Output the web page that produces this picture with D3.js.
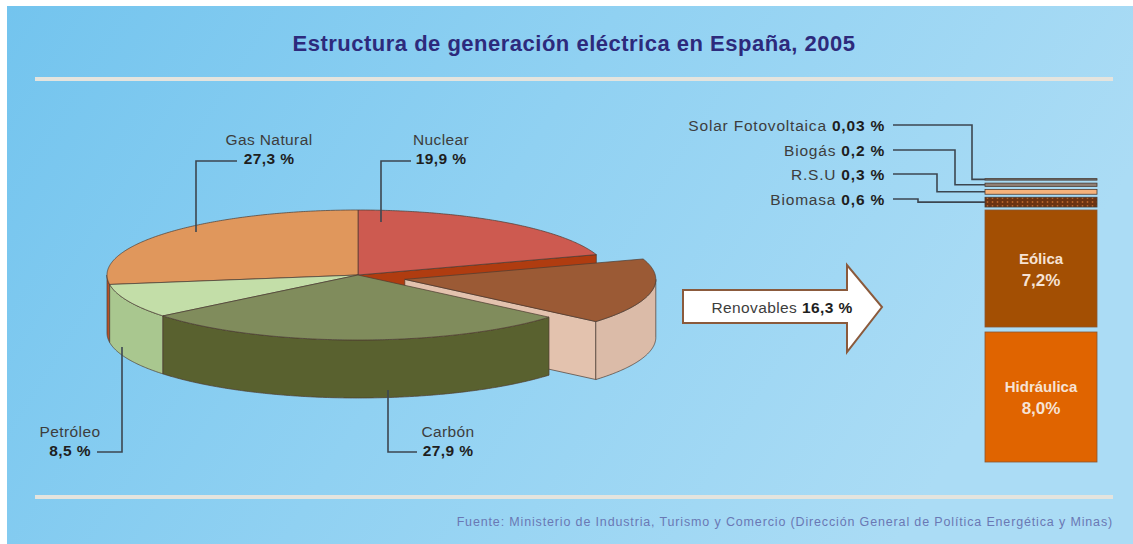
<!DOCTYPE html>
<html>
<head>
<meta charset="utf-8">
<script src="https://cdn.jsdelivr.net/npm/d3@7"></script>
<style>
  body { margin: 0; background: #fff; }
  svg { display: block; }
  text { font-family: "Liberation Sans", Arial, sans-serif; }
</style>
</head>
<body>
<div id="chart"></div>
<script>
// pie slices, clockwise from 12 o'clock
const pieLabels = ["Nuclear", "Renovables", "Carbón", "Petróleo", "Gas Natural"];
const pieValues = [19.9, 16.3, 27.9, 8.5, 27.3];
const pieTops = ["#cd5a50", "#9b5a35", "#808c5c", "#c3dea8", "#e0975c"];
const pieSides = ["#b03c10", "#dbbba8", "#59612f", "#a9c78f", "#b4502a"];
const explodedSlice = "Renovables";

// renewables stack, bottom to top
const renewLabels = ["Hidráulica", "Eólica", "Biomasa", "R.S.U", "Biogás", "Solar Fotovoltaica"];
const renewValues = [8.0, 7.2, 0.6, 0.3, 0.2, 0.03];
const renewColors = ["#e06400", "#a34f03", "#6b3312", "#f5b27b", "#8f7f75", "#6e6e6e"];
const renewTotal = 16.3;

const title = "Estructura de generación eléctrica en España, 2005";
const source = "Fuente: Ministerio de Industria, Turismo y Comercio (Dirección General de Política Energética y Minas)";

const W = 1133, H = 544;
const fmt = v => (v < 0.1 ? v.toFixed(2) : v.toFixed(1)).replace(".", ",");

const svg = d3.select("#chart").append("svg").attr("width", W).attr("height", H);
const defs = svg.append("defs");

let bg = defs.append("linearGradient").attr("id", "bg")
    .attr("x1", 0).attr("y1", 0).attr("x2", 1).attr("y2", 0.3);
bg.append("stop").attr("offset", 0).attr("stop-color", "#73c4ee");
bg.append("stop").attr("offset", 0.5).attr("stop-color", "#90d1f2");
bg.append("stop").attr("offset", 1).attr("stop-color", "#abdcf5");

let dots = defs.append("pattern").attr("id", "dots")
    .attr("width", 5).attr("height", 4).attr("patternUnits", "userSpaceOnUse");
dots.append("rect").attr("width", 5).attr("height", 4).attr("fill", "#6b3312");
dots.append("circle").attr("cx", 2.5).attr("cy", 2).attr("r", 0.9).attr("fill", "#b8652c");

svg.append("rect").attr("x", 7).attr("y", 6).attr("width", W - 7).attr("height", H - 6)
    .attr("fill", "url(#bg)");

// title and rules
svg.append("text")
    .attr("x", 574).attr("y", 51)
    .attr("text-anchor", "middle")
    .attr("font-size", "22px").attr("font-weight", "bold").attr("letter-spacing", "0.5px")
    .attr("fill", "#2d2a7c")
    .text(title);

[79, 497].forEach(y => {
    svg.append("line").attr("x1", 35).attr("x2", 1113).attr("y1", y).attr("y2", y)
        .attr("stroke", "#e4e4de").attr("stroke-width", 4);
});

svg.append("text")
    .attr("x", 1113).attr("y", 526)
    .attr("text-anchor", "end")
    .attr("font-size", "12.5px").attr("letter-spacing", "0.85px")
    .attr("fill", "#6a78b4")
    .text(source);

// ---- 3D pie ----
const cx = 358, cy = 275, rx = 251, ry = 65, depth = 58, explode = 0.19;
const line = d3.line();
const pt = (a, r, o, dz) => [cx + o[0] + rx * r * Math.sin(a), cy + o[1] - ry * r * Math.cos(a) + dz];
const arcPts = (a0, a1, o, dz) => {
    const n = Math.max(2, Math.ceil((a1 - a0) / 0.01));
    return d3.range(n + 1).map(i => pt(a0 + (a1 - a0) * i / n, 1, o, dz));
};
const topPath = (d, o) => line([pt(0, 0, o, 0), ...arcPts(d.startAngle, d.endAngle, o, 0)]) + "Z";
const outerWall = (d, o) => {
    const a0 = Math.max(d.startAngle, Math.PI / 2), a1 = Math.min(d.endAngle, 3 * Math.PI / 2);
    if (a1 <= a0) return null;
    return line([...arcPts(a0, a1, o, 0), ...arcPts(a0, a1, o, depth).reverse()]) + "Z";
};
const radialWall = (a, o) => line([pt(a, 0, o, 0), pt(a, 1, o, 0), pt(a, 1, o, depth), pt(a, 0, o, depth)]) + "Z";

const slices = d3.pie().sort(null).startAngle(0).endAngle(2 * Math.PI)(pieValues)
    .map((d, i) => {
        const mid = (d.startAngle + d.endAngle) / 2;
        const ex = pieLabels[i] === explodedSlice;
        return Object.assign(d, {
            label: pieLabels[i], top: pieTops[i], side: pieSides[i], mid, ex,
            off: ex ? [explode * rx * Math.sin(mid), -explode * ry * Math.cos(mid) + 2] : [0, 0]
        });
    });
const exIdx = slices.findIndex(d => d.ex);

const pieG = svg.append("g")
    .attr("stroke", "#4d3b30").attr("stroke-width", 0.7).attr("stroke-linejoin", "round");

// back slices first
slices.slice().sort((a, b) => -Math.cos(a.mid) + Math.cos(b.mid)).forEach(d => {
    const i = d.index;
    const nextEx = (i + 1) % slices.length === exIdx, prevEx = (i - 1 + slices.length) % slices.length === exIdx;
    const radialFill = d.ex ? d3.color(d.side).brighter(0.1) : d.side;
    if ((d.ex || nextEx) && Math.sin(d.endAngle) > 0)
        pieG.append("path").attr("d", radialWall(d.endAngle, d.off)).attr("fill", radialFill);
    if ((d.ex || prevEx) && Math.sin(d.startAngle) < 0)
        pieG.append("path").attr("d", radialWall(d.startAngle, d.off)).attr("fill", radialFill);
    const w = outerWall(d, d.off);
    if (w) pieG.append("path").attr("d", w).attr("fill", d.side);
    pieG.append("path").attr("d", topPath(d, d.off)).attr("fill", d.top);
});

// pie labels
const pieLabelPos = {
    "Gas Natural": { x: 269, y: 145, path: [[237, 161], [196, 161], [196, 232]] },
    "Nuclear":     { x: 441, y: 145, path: [[411, 161], [381, 161], [381, 222]] },
    "Petróleo":    { x: 70,  y: 437, path: [[97, 452], [122, 452], [122, 347]] },
    "Carbón":      { x: 448, y: 437, path: [[417, 452], [388, 452], [388, 390]] }
};
slices.filter(d => pieLabelPos[d.label]).forEach(d => {
    const p = pieLabelPos[d.label];
    svg.append("path").attr("d", line(p.path)).attr("fill", "none")
        .attr("stroke", "#3c4650").attr("stroke-width", 1.6);
    const t = svg.append("text").attr("text-anchor", "middle").attr("font-size", "15.5px")
        .attr("letter-spacing", "0.4px");
    t.append("tspan").attr("x", p.x).attr("y", p.y).attr("fill", "#3d3d3d").text(d.label);
    t.append("tspan").attr("x", p.x).attr("y", p.y + 19).attr("fill", "#1e1e1e")
        .attr("font-weight", "bold").text(fmt(d.value) + " %");
});

// arrow
svg.append("path")
    .attr("d", line([[683, 290], [847, 290], [847, 265], [882, 307], [847, 352], [847, 323], [683, 323]]) + "Z")
    .attr("fill", "#ffffff").attr("stroke", "#8b5a3c").attr("stroke-width", 2);
const at = svg.append("text").attr("x", 782).attr("y", 313).attr("text-anchor", "middle")
    .attr("font-size", "15.5px").attr("letter-spacing", "0.4px");
at.append("tspan").attr("fill", "#3d3d3d").text("Renovables ");
at.append("tspan").attr("fill", "#1e1e1e").attr("font-weight", "bold").text(fmt(renewTotal) + " %");

// ---- renewables stack ----
const barX = 985, barW = 112, barBottom = 462;
const hScale = d3.scaleLinear().domain([0, renewValues[0]]).range([0, 130]);
const gaps = [0, 5, 3, 3, 3, 3];
let yCur = barBottom;
const bands = renewValues.map((v, i) => {
    yCur -= gaps[i];
    const h = Math.max(hScale(v), 1.5);
    yCur -= h;
    return { label: renewLabels[i], value: v, color: renewColors[i], y: yCur, h };
});

svg.selectAll("rect.band").data(bands).join("rect")
    .attr("class", "band")
    .attr("x", barX).attr("width", barW)
    .attr("y", d => d.y).attr("height", d => d.h)
    .attr("fill", d => d.label === "Biomasa" ? "url(#dots)" : d.color)
    .attr("stroke", (d, i) => i < 2 ? "#8a5530" : "#4a3a30").attr("stroke-width", 0.8);

bands.slice(0, 2).forEach(d => {
    const t = svg.append("text").attr("text-anchor", "middle").attr("fill", "#f6e2d4")
        .attr("font-family", "'Open Sans', sans-serif").attr("font-weight", "bold");
    const c = d.y + d.h / 2;
    t.append("tspan").attr("x", barX + barW / 2).attr("y", c - 5).attr("font-size", "15px").text(d.label);
    t.append("tspan").attr("x", barX + barW / 2).attr("y", c + 17).attr("font-size", "17px").text(fmt(d.value) + "%");
});

// small bands: labels + leaders
const smallLabelY = { "Biomasa": 199, "R.S.U": 174, "Biogás": 150, "Solar Fotovoltaica": 125 };
const smallElbowX = { "Biomasa": 918, "R.S.U": 937, "Biogás": 955, "Solar Fotovoltaica": 972 };
bands.slice(2).forEach(d => {
    const ly = smallLabelY[d.label], ex = smallElbowX[d.label], by = d.y + d.h / 2;
    svg.append("path").attr("d", line([[893, ly], [ex, ly], [ex, by], [barX, by]]))
        .attr("fill", "none").attr("stroke", "#3c4650").attr("stroke-width", 1.6);
    const t = svg.append("text").attr("x", 885).attr("y", ly + 5.5).attr("text-anchor", "end")
        .attr("font-size", "15.5px").attr("letter-spacing", "0.8px");
    t.append("tspan").attr("fill", "#3d3d3d").text(d.label + " ");
    t.append("tspan").attr("fill", "#1e1e1e").attr("font-weight", "bold").text(fmt(d.value) + " %");
});
</script>
</body>
</html>
